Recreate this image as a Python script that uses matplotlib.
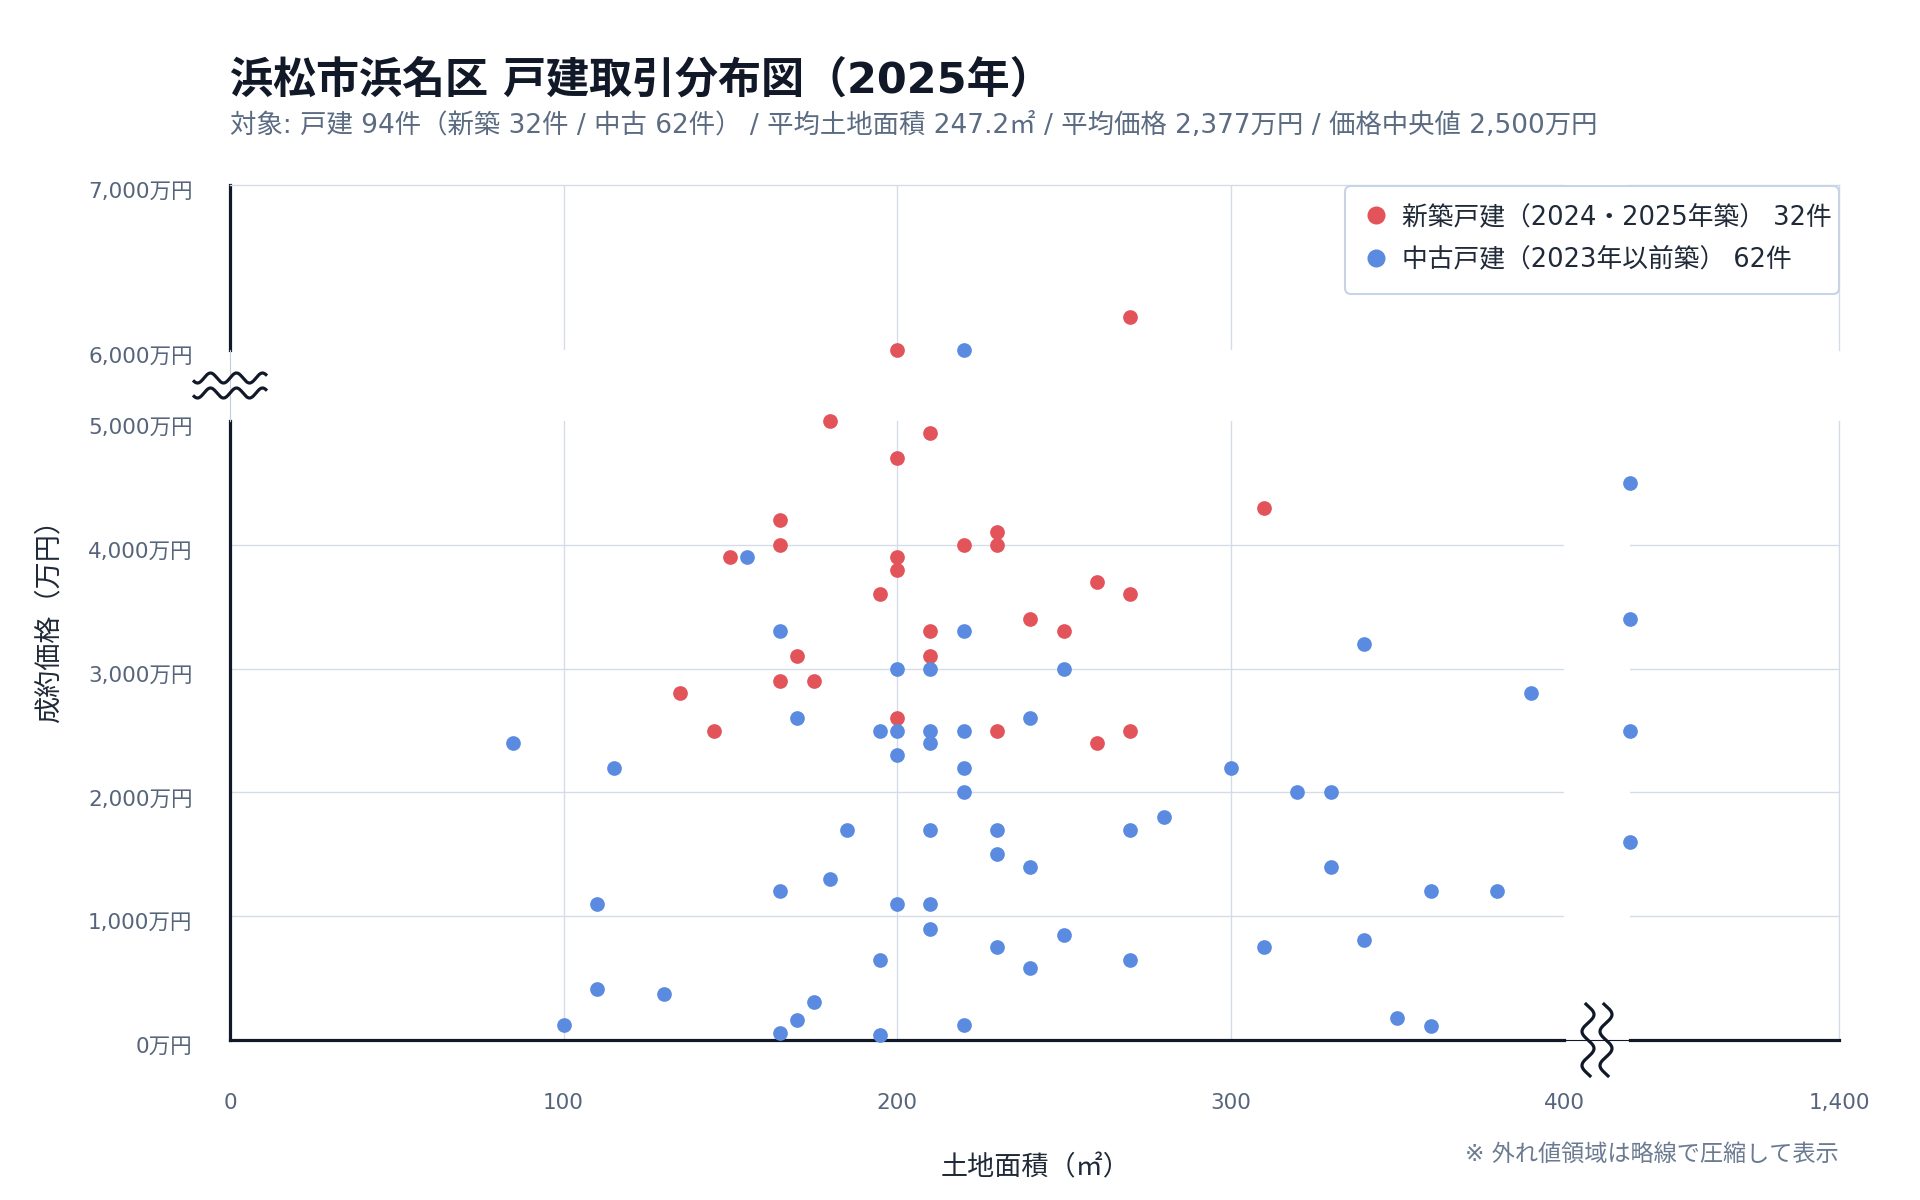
import numpy as np
import matplotlib.pyplot as plt
from matplotlib.lines import Line2D
from matplotlib.patches import FancyBboxPatch
from matplotlib.transforms import ScaledTranslation

plt.rcParams['font.family'] = ['DejaVu Sans', 'Noto Sans CJK JP']

# 新築戸建（2024・2025年築）: 土地面積(㎡), 成約価格(万円)
new_area = [270, 200, 180, 210, 200, 310, 165, 230, 165, 220, 230, 150, 200, 200, 260,
            195, 270, 240, 210, 250, 170, 210, 165, 175, 135, 200, 145, 230, 270, 260]
new_price = [6200, 6000, 5000, 4900, 4700, 4300, 4200, 4100, 4000, 4000, 4000, 3900, 3900, 3800, 3700,
             3600, 3600, 3400, 3300, 3300, 3100, 3100, 2900, 2900, 2800, 2600, 2500, 2500, 2500, 2400]

# 中古戸建（2023年以前築）
used_area = [220, 155, 165, 220, 340, 200, 210, 250, 390, 170, 240, 195, 200, 210, 220,
             85, 210, 200, 115, 220, 300, 220, 320, 330, 280, 185, 210, 230, 270, 230,
             240, 330, 180, 165, 360, 380, 110, 200, 210, 210, 250, 340, 230, 310, 195,
             270, 240, 110, 130, 175, 350, 170, 100, 220, 360, 165, 195,
             500, 500, 500, 500]
used_price = [6000, 3900, 3300, 3300, 3200, 3000, 3000, 3000, 2800, 2600, 2600, 2500, 2500, 2500, 2500,
              2400, 2400, 2300, 2200, 2200, 2200, 2000, 2000, 2000, 1800, 1700, 1700, 1700, 1700, 1500,
              1400, 1400, 1300, 1200, 1200, 1200, 1100, 1100, 1100, 900, 850, 810, 750, 750, 650,
              650, 580, 410, 370, 310, 180, 160, 120, 120, 110, 60, 40,
              4500, 3400, 2500, 1600]

series = [
    (new_area, new_price, '#E2535A', '新築戸建（2024・2025年築） 32件'),
    (used_area, used_price, '#5B8BE1', '中古戸建（2023年以前築） 62件'),
]

title = '浜松市浜名区 戸建取引分布図（2025年）'
subtitle = ('対象: 戸建 94件（新築 32件 / 中古 62件） / 平均土地面積 247.2㎡ / '
            '平均価格 2,377万円 / 価格中央値 2,500万円')

# 軸の区切り
x_main = (0, 400)
x_out = (500, 1400)
y_main = (0, 5000)
y_out = (6000, 7000)

W, H = 1920, 1200
left, gap_l, gap_r, right = 230, 1564, 1630, 1839
top, gap_t, gap_b, bottom = 185, 350, 421, 1040

dark = '#111827'
grid_c = '#d3dce7'
tick_c = '#56657b'


def px_axes(x0, x1, y0, y1):
    return fig.add_axes([x0 / W, 1 - y1 / H, (x1 - x0) / W, (y1 - y0) / H])


fig = plt.figure(figsize=(W / 100, H / 100), dpi=100)
fig.patch.set_facecolor('white')

ax_ll = px_axes(left, gap_l, gap_b, bottom)
ax_lr = px_axes(gap_r, right, gap_b, bottom)
ax_ul = px_axes(left, gap_l, top, gap_t)
ax_ur = px_axes(gap_r, right, top, gap_t)

panels = [(ax_ll, x_main, y_main), (ax_lr, x_out, y_main),
          (ax_ul, x_main, y_out), (ax_ur, x_out, y_out)]

for ax, xr, yr in panels:
    ax.set_xlim(xr)
    ax.set_ylim(yr)
    for s in ax.spines.values():
        s.set_visible(False)
    ax.tick_params(length=0, labelsize=15.5, labelcolor=tick_c)
    ax.set_xticks([])
    ax.set_yticks([])
    for xs, ys, col, lab in series:
        xs = np.array(xs)
        ys = np.array(ys)
        m = (xs >= xr[0]) & (xs <= xr[1]) & (ys >= yr[0]) & (ys <= yr[1])
        ax.scatter(xs[m], ys[m], s=112, color=col, linewidths=0, clip_on=False, zorder=3)

# グリッド
for ax in (ax_ll, ax_ul):
    for v in (100, 200, 300):
        ax.axvline(v, color=grid_c, lw=1.0, zorder=0)
for ax in (ax_ll, ax_lr):
    for v in (1000, 2000, 3000, 4000):
        ax.axhline(v, color=grid_c, lw=1.0, zorder=0)
for ax in (ax_ul, ax_ur):
    ax.spines['top'].set_visible(True)
    ax.spines['top'].set_color(grid_c)
    ax.spines['top'].set_linewidth(1.0)
for ax in (ax_lr, ax_ur):
    ax.spines['right'].set_visible(True)
    ax.spines['right'].set_color(grid_c)
    ax.spines['right'].set_linewidth(1.0)

# 軸線
for ax in (ax_ll, ax_ul):
    ax.spines['left'].set_visible(True)
    ax.spines['left'].set_color(dark)
    ax.spines['left'].set_linewidth(2.3)
for ax in (ax_ll, ax_lr):
    ax.spines['bottom'].set_visible(True)
    ax.spines['bottom'].set_color(dark)
    ax.spines['bottom'].set_linewidth(2.3)

# 目盛ラベル
def man_fmt(v):
    return f'{v:,}万円'

ax_ll.set_yticks([0, 1000, 2000, 3000, 4000, 5000])
ax_ll.set_yticklabels([man_fmt(v) for v in [0, 1000, 2000, 3000, 4000, 5000]])
ax_ul.set_yticks([6000, 7000])
ax_ul.set_yticklabels([man_fmt(v) for v in [6000, 7000]])
ax_ll.set_xticks([0, 100, 200, 300, 400])
ax_ll.set_xticklabels(['0', '100', '200', '300', '400'])
ax_lr.set_xticks([1400])
ax_lr.set_xticklabels(['1,400'])
shift = ScaledTranslation(0, -5 / 100, fig.dpi_scale_trans)
for ax in (ax_ll, ax_ul):
    ax.tick_params(axis='y', pad=27)
    for lab in ax.get_yticklabels():
        lab.set_transform(lab.get_transform() + shift)
for ax in (ax_ll, ax_lr):
    ax.tick_params(axis='x', pad=38)

# 略線など（図全体のピクセル座標）
ov = fig.add_axes([0, 0, 1, 1], zorder=10)
ov.set_xlim(0, W)
ov.set_ylim(H, 0)
ov.axis('off')
ov.patch.set_visible(False)

ov.plot([left, left], [gap_t, gap_b], color='#c5cdd8', lw=0.8)
ov.plot([gap_l, gap_r], [bottom, bottom], color=dark, lw=0.8)

yc = (gap_t + gap_b) / 2
t = np.linspace(-37, 37, 200)
for off in (-7.5, 7.5):
    ov.plot(left + t, yc + off - 5 * np.sin(2 * np.pi * t / 26), color=dark, lw=2.3,
            solid_capstyle='butt')
xc = (gap_l + gap_r) / 2
t = np.linspace(-37, 37, 200)
for off in (-9, 9):
    ov.plot(xc + off + 6 * np.sin(2 * np.pi * t / 34), bottom + t, color=dark, lw=2.3,
            solid_capstyle='butt')

# 凡例の枠
leg_x0, leg_x1, leg_y0, leg_y1 = 1345, right, top + 1, 294
ov.add_patch(FancyBboxPatch((leg_x0, leg_y0), leg_x1 - leg_x0, leg_y1 - leg_y0,
                            boxstyle='round,pad=0,rounding_size=6', facecolor='white',
                            edgecolor='#c8d4e3', linewidth=1.5, zorder=5))

# テキスト
fig.text(left / W, 1 - 81 / H, title, fontsize=31, fontweight='bold', color=dark,
         ha='left', va='center')
fig.text(left / W, 1 - 126 / H, subtitle, fontsize=19.0, color='#5b6b82',
         ha='left', va='center')
fig.text(49 / W, 1 - 614 / H, '成約価格（万円）', fontsize=19.5, color='#1f2937',
         rotation=90, ha='center', va='center')
fig.text(1036 / W, 1 - 1168 / H, '土地面積（㎡）', fontsize=19.5, color='#1f2937',
         ha='center', va='center')
fig.text(right / W, 1 - 1154 / H, '※ 外れ値領域は略線で圧縮して表示', fontsize=16.7,
         color='#6b7a90', ha='right', va='center')

handles = [Line2D([], [], marker='o', linestyle='none', markersize=13, color=c,
                  markeredgewidth=0) for _, _, c, _ in series]
labels = [lab for _, _, _, lab in series]
leg = fig.legend(handles, labels, loc='center left',
                 bbox_to_anchor=(1363 / W, 1 - 238.5 / H), fontsize=18.5,
                 frameon=False, borderpad=0, labelspacing=0.64,
                 handlelength=1.0, handletextpad=0.52, borderaxespad=0)
leg.set_zorder(20)
for txt in leg.get_texts():
    txt.set_color('#1f2937')

plt.savefig('out.png', dpi=100, facecolor='white')
